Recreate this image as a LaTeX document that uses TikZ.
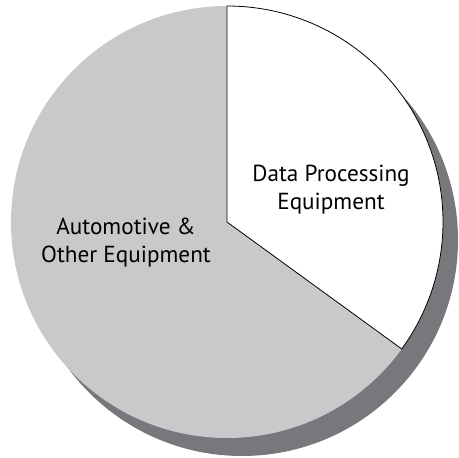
\documentclass[tikz,border=0pt]{standalone}
\usepackage{fontspec}
\setmainfont{PT Sans}
\definecolor{pieGray}{HTML}{C8C9CB}
\definecolor{shadowGray}{HTML}{77787B}
\begin{document}
\begin{tikzpicture}[x=1pt,y=-1pt,
  lbl/.style={align=center,font=\fontsize{23.2}{27.5}\selectfont,text=black,inner sep=0pt}]
\useasboundingbox (0,0) rectangle (459,458);
\coordinate (c) at (227,222);
\fill[shadowGray] (242,240) circle[radius=216];
\fill[pieGray] (c) circle[radius=216];
\draw[fill=white,line width=0.8pt] (c) -- ++(0,-216) arc[start angle=-90,end angle=36,radius=216] -- cycle;
\node[lbl,anchor=base] (dp) at (331,209) {Data Processing\\Equipment};
\node[lbl,anchor=base] (ao) at (126,262) {Automotive \&\\Other Equipment};
\end{tikzpicture}
\end{document}
